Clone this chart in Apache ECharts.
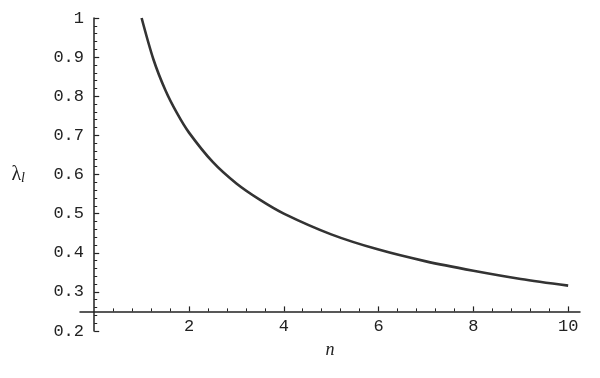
<!DOCTYPE html>
<html>
<head>
<meta charset="utf-8">
<script src="https://cdn.jsdelivr.net/npm/echarts@6/dist/echarts.min.js"></script>
<style>html,body{margin:0;padding:0;background:#fff}#c{width:600px;height:378px}</style>
</head>
<body>
<div id="c"></div>
<script>
// data
var nValues = [1, 1.25, 1.5, 1.75, 2, 2.5, 3, 3.5, 4, 5, 6, 7, 8, 9, 10];
var lambdaValues = [1.0, 0.894, 0.816, 0.756, 0.707, 0.632, 0.577, 0.535, 0.5, 0.447, 0.408, 0.378, 0.354, 0.333, 0.316];
var xTickLabels = [2, 4, 6, 8, 10];
var xMinorTicks = [0.4, 0.8, 1.2, 1.6, 2.4, 2.8, 3.2, 3.6, 4.4, 4.8, 5.2, 5.6, 6.4, 6.8, 7.2, 7.6, 8.4, 8.8, 9.2, 9.6, 10.0];
var yTickLabels = [0.2, 0.3, 0.4, 0.5, 0.6, 0.7, 0.8, 0.9, 1];

var seriesData = nValues.map(function (n, i) { return [n, lambdaValues[i]]; });
var ink = '#222';
var monoFont = '"Liberation Mono", "DejaVu Sans Mono", monospace';

var chart = echarts.init(document.getElementById('c'), null, {renderer: 'canvas'});
chart.setOption({
  animation: false,
  backgroundColor: '#fff',
  grid: {left: 80, right: 20, top: 18, bottom: 47, containLabel: false, outerBoundsMode: 'none'},
  xAxis: [{
    type: 'value', min: -0.3, max: 10.25, position: 'bottom', offset: -19.6,
    axisLine: {show: true, onZero: false, lineStyle: {color: ink, width: 1.5}},
    axisTick: {show: true, inside: true, length: 3, customValues: xMinorTicks, lineStyle: {color: ink, width: 1}},
    axisLabel: {show: true, customValues: xTickLabels, margin: 7, color: ink, fontFamily: monoFont, fontSize: 17},
    splitLine: {show: false},
    name: 'n', nameLocation: 'middle', nameGap: 30,
    nameTextStyle: {fontFamily: '"Liberation Serif", serif', fontStyle: 'italic', fontSize: 18, color: ink}
  }, {
    type: 'value', min: -0.3, max: 10.25, position: 'bottom', offset: -19.6,
    axisLine: {show: false},
    axisTick: {show: true, inside: true, length: 5, customValues: xTickLabels, lineStyle: {color: ink, width: 1.2}},
    axisLabel: {show: false},
    splitLine: {show: false}
  }],
  yAxis: {
    type: 'value', min: 0.2, max: 1, interval: 0.1,
    axisLine: {show: true, onZero: true, lineStyle: {color: ink, width: 1.5}},
    axisTick: {show: true, inside: true, length: 5, lineStyle: {color: ink, width: 1.2}},
    minorTick: {show: true, splitNumber: 5, length: 3, lineStyle: {color: ink, width: 1}},
    axisLabel: {show: true, margin: -4, color: ink, fontFamily: monoFont, fontSize: 17,
      formatter: function (v) { return String(Math.round(v * 10) / 10); }},
    splitLine: {show: false},
    name: '{a|λ}{b|l}', nameLocation: 'middle', nameGap: 55, nameRotate: 0,
    nameTextStyle: {rich: {
      a: {fontFamily: '"Liberation Serif", serif', fontSize: 20, color: ink},
      b: {fontFamily: '"Liberation Serif", serif', fontStyle: 'italic', fontSize: 14, color: ink, verticalAlign: 'bottom', padding: [8, 0, 0, 0]}
    }}
  },
  series: [{
    type: 'line', xAxisIndex: 0, data: seriesData, smooth: 0.3, showSymbol: false,
    lineStyle: {color: '#333', width: 2.6}
  }]
});
</script>
</body>
</html>
